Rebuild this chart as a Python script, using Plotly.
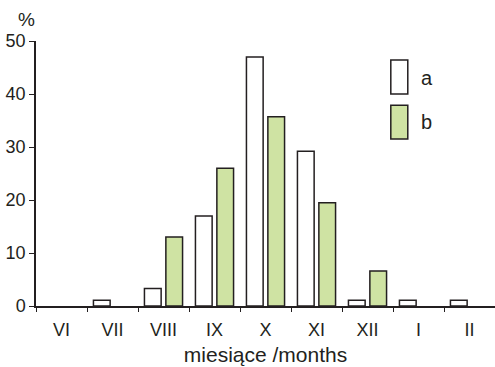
import plotly.graph_objects as go

months = ["VI", "VII", "VIII", "IX", "X", "XI", "XII", "I", "II"]
series_a = [0, 1.1, 3.3, 17.0, 47.0, 29.2, 1.1, 1.1, 1.1]
series_b = [0, 0, 13.0, 26.0, 35.7, 19.5, 6.6, 0, 0]
y_ticks = [0, 10, 20, 30, 40, 50]

ink = "#231f20"
green = "#cfe3a3"
font = "Arial, Liberation Sans, sans-serif"


def visible(values):
    return [v if v else None for v in values]


fig = go.Figure()
fig.add_bar(x=months, y=visible(series_a), name="a", marker=dict(color="white", line=dict(color=ink, width=1.5)))
fig.add_bar(x=months, y=visible(series_b), name="b", marker=dict(color=green, line=dict(color=ink, width=1.5)))

fig.update_layout(
    width=495, height=367,
    margin=dict(l=36, r=0, t=41, b=61),
    paper_bgcolor="white", plot_bgcolor="white",
    barmode="group", bargap=0.16, bargroupgap=0.22,
    showlegend=False,
    font=dict(family=font, color=ink),
)
fig.update_xaxes(
    type="category", categoryorder="array", categoryarray=months,
    automargin=False,
    showline=True, linecolor=ink, linewidth=1.5,
    ticks="outside", tickson="boundaries", ticklen=4, tickcolor=ink, tickwidth=1.2,
    tickfont=dict(size=18, family=font, color=ink), ticklabelstandoff=7,
    showgrid=False, zeroline=False,
    title=dict(text="miesiące /months", font=dict(size=21, family=font, color=ink), standoff=8),
)
fig.update_yaxes(
    range=[0, 50], tickvals=y_ticks, automargin=False,
    showline=True, linecolor=ink, linewidth=1.5,
    ticks="outside", ticklen=5, tickcolor=ink, tickwidth=1.2,
    tickfont=dict(size=18, family=font, color=ink),
    showgrid=False, zeroline=False,
)

# legend drawn as tall swatches
fig.add_shape(type="rect", xref="paper", yref="paper", x0=0.773, x1=0.810, y0=0.800, y1=0.928,
              fillcolor="white", line=dict(color=ink, width=1.5))
fig.add_shape(type="rect", xref="paper", yref="paper", x0=0.773, x1=0.810, y0=0.630, y1=0.758,
              fillcolor=green, line=dict(color=ink, width=1.5))
fig.add_annotation(text="a", xref="paper", yref="paper", x=0.834, y=0.860, xanchor="left", yanchor="middle",
                   showarrow=False, font=dict(size=20, family=font, color=ink))
fig.add_annotation(text="b", xref="paper", yref="paper", x=0.834, y=0.694, xanchor="left", yanchor="middle",
                   showarrow=False, font=dict(size=20, family=font, color=ink))
fig.add_annotation(text="%", xref="paper", yref="paper", x=-0.02, y=1.0, yshift=22, xanchor="center", yanchor="middle",
                   showarrow=False, font=dict(size=19, family=font, color=ink))

fig.write_html("out.html", config={"displayModeBar": False},
               post_script="document.body.style.margin='0';")
